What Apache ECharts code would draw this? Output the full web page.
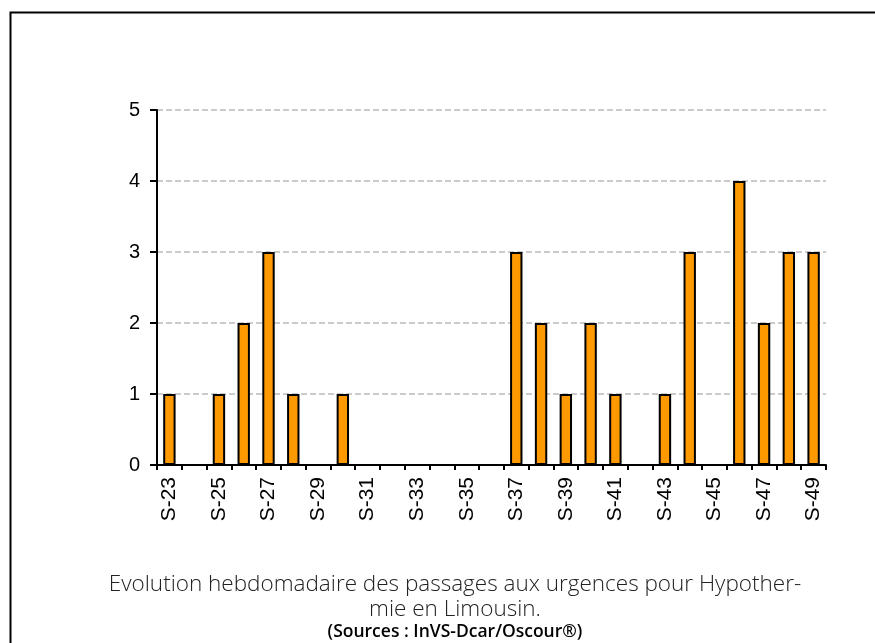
<!DOCTYPE html>
<html>
<head>
<meta charset="utf-8">
<script src="https://cdn.jsdelivr.net/npm/echarts@6/dist/echarts.min.js"></script>
<style>
  html, body { margin: 0; padding: 0; background: #fff; }
  #chart { width: 875px; height: 643px; }
</style>
</head>
<body>
<div id="chart"></div>
<script>
// weeks S-23 .. S-49
const weeks = [
  'S-23', 'S-24', 'S-25', 'S-26', 'S-27', 'S-28', 'S-29', 'S-30', 'S-31',
  'S-32', 'S-33', 'S-34', 'S-35', 'S-36', 'S-37', 'S-38', 'S-39', 'S-40',
  'S-41', 'S-42', 'S-43', 'S-44', 'S-45', 'S-46', 'S-47', 'S-48', 'S-49'
];
const passages = [
  1, 0, 1, 2, 3, 1, 0, 1, 0,
  0, 0, 0, 0, 0, 3, 2, 1, 2,
  1, 0, 1, 3, 0, 4, 2, 3, 3
];
const yTicks = [0, 1, 2, 3, 4, 5];

const captionLines = [
  'Evolution hebdomadaire des passages aux urgences pour Hypother-',
  'mie en Limousin.'
];
const sourceText = '(Sources : InVS-Dcar/Oscour®)';

const chart = echarts.init(document.getElementById('chart'));

const option = {
  animation: false,
  backgroundColor: '#fff',
  title: {
    text: captionLines.join('\n'),
    subtext: sourceText,
    left: 450,
    textAlign: 'center',
    top: 567,
    itemGap: 0,
    textStyle: {
      fontFamily: 'Open Sans',
      fontWeight: 300,
      fontSize: 22.5,
      lineHeight: 25,
      color: '#222'
    },
    subtextStyle: {
      fontFamily: 'Open Sans',
      fontWeight: 600,
      fontSize: 17.5,
      lineHeight: 20,
      color: '#000'
    }
  },
  grid: {
    left: 157,
    right: 49,
    top: 110,
    bottom: 178
  },
  xAxis: {
    type: 'category',
    data: weeks,
    axisLine: { lineStyle: { color: '#000', width: 2 } },
    axisTick: {
      show: true,
      interval: 0,
      length: 5,
      lineStyle: { color: '#000', width: 2 }
    },
    axisLabel: {
      interval: 1,
      rotate: 90,
      margin: 12,
      fontFamily: 'Liberation Sans',
      fontSize: 21,
      color: '#000'
    },
    splitLine: { show: false }
  },
  yAxis: {
    type: 'value',
    min: yTicks[0],
    max: yTicks[yTicks.length - 1],
    interval: 1,
    axisLine: { show: true, lineStyle: { color: '#000', width: 2 } },
    axisTick: {
      show: true,
      length: 7,
      lineStyle: { color: '#000', width: 2 }
    },
    axisLabel: {
      margin: 17,
      fontFamily: 'Liberation Sans',
      fontSize: 20,
      color: '#000'
    },
    splitLine: {
      show: true,
      lineStyle: { color: '#bbb', type: [6, 3], width: 1.5 }
    }
  },
  series: [
    {
      name: 'Passages',
      type: 'bar',
      data: passages,
      barWidth: '50%',
      itemStyle: {
        color: '#FF9900',
        borderColor: '#000',
        borderWidth: 2
      }
    }
  ],
  graphic: [
    {
      type: 'rect',
      left: 8,
      top: 10,
      shape: { width: 900, height: 700 },
      style: { fill: 'none', stroke: '#000', lineWidth: 2 },
      silent: true
    }
  ]
};

chart.setOption(option);
</script>
</body>
</html>
